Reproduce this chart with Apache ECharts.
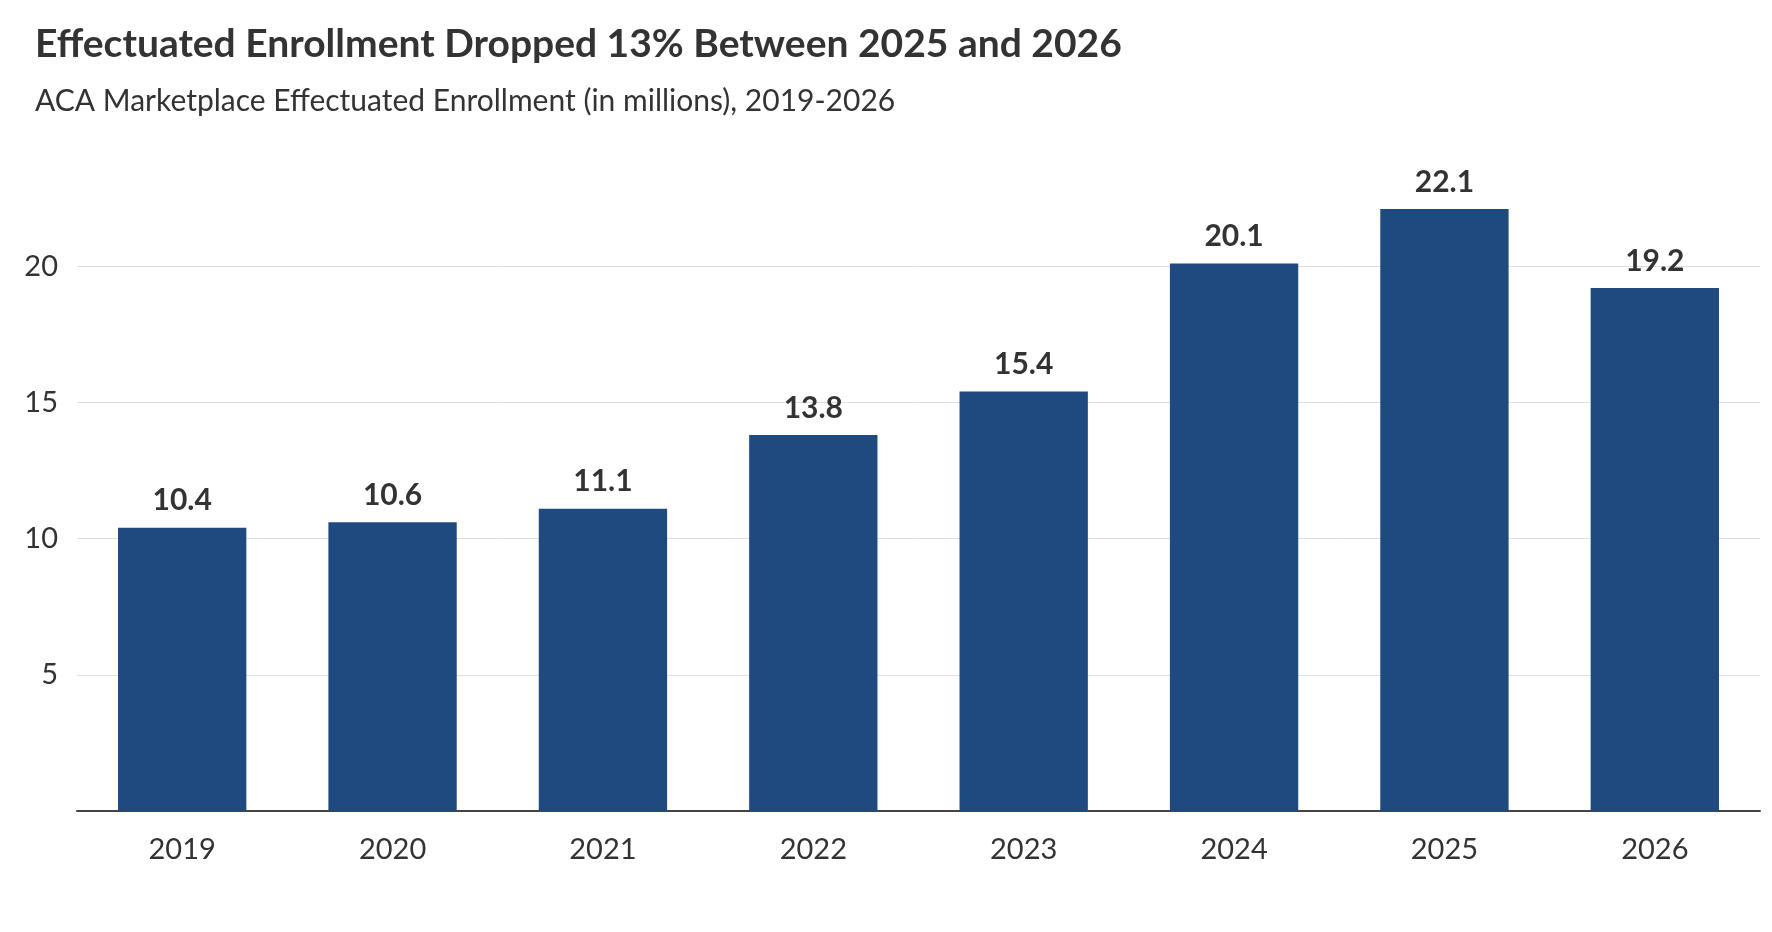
<!DOCTYPE html>
<html>
<head>
<meta charset="utf-8">
<script src="https://cdn.jsdelivr.net/npm/echarts@6/dist/echarts.min.js"></script>
<style>
  html, body { margin: 0; padding: 0; background: #fff; }
  #chart { width: 1772px; height: 932px; }
</style>
</head>
<body>
<div id="chart"></div>
<script>
const years = ['2019', '2020', '2021', '2022', '2023', '2024', '2025', '2026'];
const enrollment = [10.4, 10.6, 11.1, 13.8, 15.4, 20.1, 22.1, 19.2];
const yTicks = [5, 10, 15, 20];

const font = 'Lato, "Noto Sans", sans-serif';
const chart = echarts.init(document.getElementById('chart'));

chart.setOption({
    animation: false,
    title: {
        text: 'Effectuated Enrollment Dropped 13% Between 2025 and 2026',
        subtext: 'ACA Marketplace Effectuated Enrollment (in millions), 2019-2026',
        left: 30,
        top: 20,
        itemGap: 22,
        textStyle: { fontFamily: font, fontSize: 39, fontWeight: 'bold', color: '#333' },
        subtextStyle: { fontFamily: font, fontSize: 30, color: '#333' }
    },
    grid: { left: 77, right: 12, top: 130, bottom: 121 },
    xAxis: {
        type: 'category',
        data: years,
        axisTick: { show: false },
        axisLine: { lineStyle: { color: '#444', width: 2 } },
        axisLabel: { fontFamily: font, fontSize: 29, color: '#333', margin: 24 }
    },
    yAxis: {
        type: 'value',
        min: 0,
        max: 25,
        interval: 5,
        axisLine: { show: false },
        axisTick: { show: false },
        axisLabel: {
            fontFamily: font, fontSize: 29, color: '#333', margin: 19,
            formatter: v => (yTicks.includes(v) ? String(v) : '')
        },
        splitLine: {
            lineStyle: { color: ['#dedede', '#dedede', '#dedede', '#dedede', '#dedede', 'rgba(0,0,0,0)'] }
        }
    },
    series: [{
        type: 'bar',
        data: enrollment,
        barWidth: '61%',
        itemStyle: { color: '#1f4a80' },
        label: {
            show: true,
            position: 'top',
            distance: 12,
            fontFamily: font,
            fontSize: 30,
            fontWeight: 'bold',
            color: '#333',
            formatter: p => p.value.toFixed(1)
        }
    }]
});
</script>
</body>
</html>
